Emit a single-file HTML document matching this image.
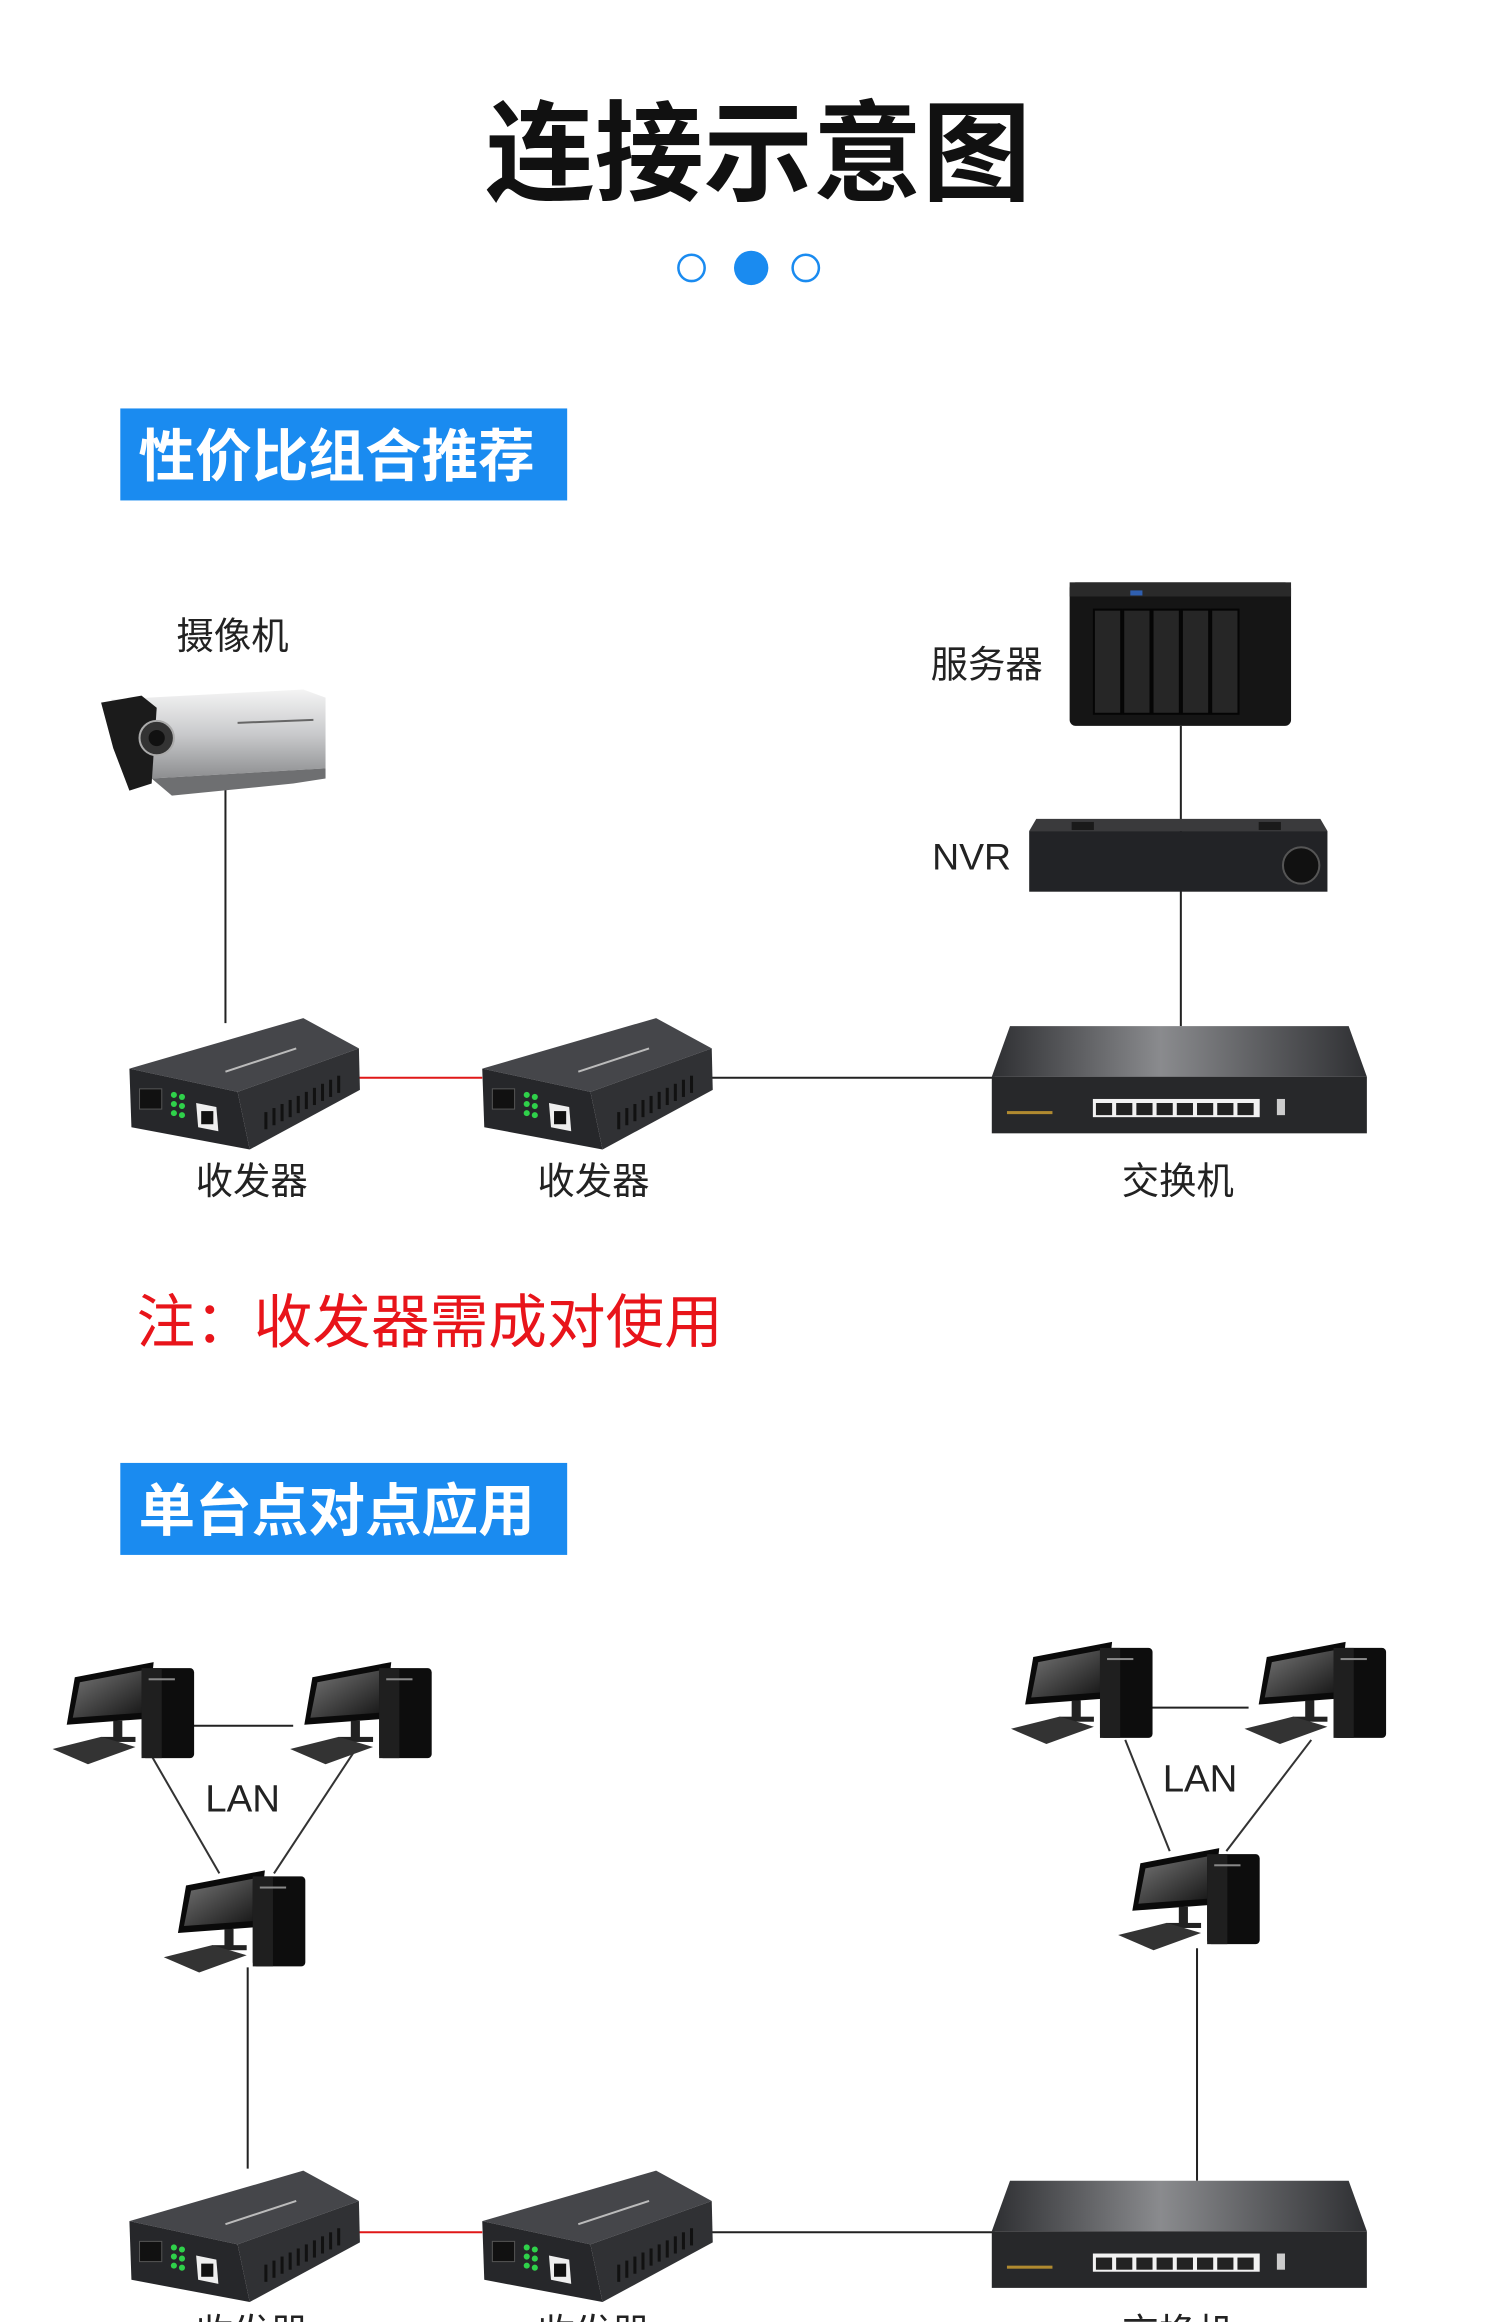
<!DOCTYPE html>
<html><head><meta charset="utf-8"><style>
html,body{margin:0;padding:0;background:#fff;}
svg{display:block;}
text{font-family:"Liberation Sans","Noto Sans CJK SC",sans-serif;}
</style></head><body>
<svg width="1500" height="2322" viewBox="0 0 1500 2322" xmlns="http://www.w3.org/2000/svg">
<defs>
<linearGradient id="swtop" x1="0" y1="0" x2="1" y2="0">
<stop offset="0" stop-color="#2e2f32"/><stop offset="0.45" stop-color="#8a8b8e"/><stop offset="1" stop-color="#2e2f32"/></linearGradient>
<linearGradient id="scr" x1="0" y1="0" x2="1" y2="1"><stop offset="0" stop-color="#777"/><stop offset="1" stop-color="#111"/></linearGradient>
<linearGradient id="cam" x1="0" y1="0" x2="0" y2="1"><stop offset="0" stop-color="#f4f4f4"/><stop offset="0.5" stop-color="#c9cacc"/><stop offset="1" stop-color="#8d8e90"/></linearGradient>
<g id="tr">
<polygon points="0,52 172,2 227,32 107,75" fill="#45464a"/>
<polygon points="0,52 107,75 119,132 2,110" fill="#26272a"/>
<polygon points="107,75 227,32 228,73 119,132" fill="#303134"/>
<rect x="10" y="72" width="22" height="20" fill="#111" stroke="#555"/>
<g fill="#2fd14a"><circle cx="44" cy="78" r="3"/><circle cx="52" cy="80" r="3"/><circle cx="44" cy="87" r="3"/><circle cx="52" cy="89" r="3"/><circle cx="44" cy="96" r="3"/><circle cx="52" cy="98" r="3"/></g>
<polygon points="66,86 86,90 88,114 68,110" fill="#eee"/><rect x="71" y="94" width="12" height="13" fill="#111"/>
<g stroke="#111" stroke-width="3"><line x1="135" y1="95" x2="135" y2="112"/><line x1="143" y1="91" x2="143" y2="108"/><line x1="151" y1="87" x2="151" y2="104"/><line x1="159" y1="83" x2="159" y2="100"/><line x1="167" y1="79" x2="167" y2="96"/><line x1="175" y1="75" x2="175" y2="92"/><line x1="183" y1="71" x2="183" y2="88"/><line x1="191" y1="67" x2="191" y2="84"/><line x1="199" y1="63" x2="199" y2="80"/><line x1="207" y1="59" x2="207" y2="76"/></g>
<line x1="95" y1="55" x2="165" y2="32" stroke="#bbb" stroke-width="2"/>
</g>
<g id="sw">
<polygon points="18,0 353,0 371,50 0,50" fill="url(#swtop)"/>
<rect x="0" y="50" width="371" height="56" fill="#27282a"/>
<rect x="100" y="72" width="165" height="18" fill="#f2f2f2"/>
<g fill="#222"><rect x="103" y="76" width="16" height="12"/><rect x="123" y="76" width="16" height="12"/><rect x="143" y="76" width="16" height="12"/><rect x="163" y="76" width="16" height="12"/><rect x="183" y="76" width="16" height="12"/><rect x="203" y="76" width="16" height="12"/><rect x="223" y="76" width="16" height="12"/><rect x="243" y="76" width="16" height="12"/></g>
<rect x="282" y="72" width="8" height="16" fill="#ccc"/>
<rect x="15" y="84" width="45" height="3" fill="#b08a30"/>
</g>
<g id="pc">
<polygon points="22,17 100,2 94,58 14,64" fill="#0a0a0a"/>
<polygon points="27,22 95,9 90,52 20,57" fill="url(#scr)"/>
<rect x="60" y="60" width="9" height="18" fill="#222"/><rect x="48" y="76" width="34" height="5" fill="#222"/>
<polygon points="0,88 48,76 82,86 35,103" fill="#333"/>
<rect x="88" y="8" width="52" height="89" rx="4" fill="#0d0d0d"/>
<rect x="88" y="8" width="20" height="89" fill="#1f1f1f"/>
<rect x="95" y="18" width="26" height="2" fill="#888"/>
</g>
</defs>
<g transform="scale(1.011)">
<text x="750" y="190" font-size="108" font-weight="bold" text-anchor="middle" fill="#111">连接示意图</text>
<circle cx="684" cy="265" r="13" fill="none" stroke="#1a8bf0" stroke-width="2.5"/>
<circle cx="743" cy="265" r="17" fill="#1a8bf0"/>
<circle cx="797" cy="265" r="13" fill="none" stroke="#1a8bf0" stroke-width="2.5"/>

<rect x="119" y="404" width="442" height="91" fill="#1a8bf0"/>
<text x="137" y="471" font-size="56" font-weight="bold" fill="#fff">性价比组合推荐</text>

<line x1="223" y1="780" x2="223" y2="1012" stroke="#222" stroke-width="2"/>
<line x1="355" y1="1066" x2="477" y2="1066" stroke="#e01818" stroke-width="2"/>
<line x1="700" y1="1066" x2="984" y2="1066" stroke="#222" stroke-width="2"/>
<line x1="1168" y1="718" x2="1168" y2="1015" stroke="#222" stroke-width="2"/>

<text x="230" y="642" font-size="37" text-anchor="middle" fill="#222">摄像机</text>
<g>
<polygon points="110,692 300,682 322,690 322,760 150,770" fill="url(#cam)"/>
<polygon points="100,695 140,688 155,700 150,775 128,782 112,740" fill="#1b1b1b"/>
<circle cx="155" cy="730" r="17" fill="#333" stroke="#aaa" stroke-width="2"/>
<circle cx="155" cy="730" r="8" fill="#111"/>
<polygon points="150,770 322,760 322,770 290,775 170,787" fill="#6e6f71"/>
<line x1="235" y1="715" x2="310" y2="712" stroke="#666" stroke-width="2"/>
</g>

<text x="976" y="670" font-size="37" text-anchor="middle" fill="#222">服务器</text>
<g>
<rect x="1058" y="576" width="219" height="142" rx="6" fill="#151515"/>
<rect x="1058" y="576" width="219" height="14" fill="#2a2a2a"/>
<g fill="#262626" stroke="#050505" stroke-width="2"><rect x="1082" y="603" width="27" height="103"/><rect x="1111" y="603" width="27" height="103"/><rect x="1140" y="603" width="27" height="103"/><rect x="1169" y="603" width="27" height="103"/><rect x="1198" y="603" width="27" height="103"/></g>
<rect x="1118" y="584" width="12" height="5" fill="#2f5fb0"/>
</g>
<text x="961" y="860" font-size="37" text-anchor="middle" fill="#222">NVR</text>
<g>
<polygon points="1025,810 1306,810 1313,822 1018,822" fill="#3a3a3c"/>
<rect x="1018" y="822" width="295" height="60" fill="#222326"/>
<rect x="1060" y="813" width="22" height="8" fill="#1a1a1a"/><rect x="1245" y="813" width="22" height="8" fill="#1a1a1a"/>
<circle cx="1287" cy="856" r="18" fill="#111" stroke="#555" stroke-width="2"/>
</g>

<use href="#tr" x="128" y="1005"/>
<use href="#tr" x="477" y="1005"/>
<use href="#sw" x="981" y="1015"/>
<text x="249" y="1181" font-size="37" text-anchor="middle" fill="#222">收发器</text>
<text x="587" y="1181" font-size="37" text-anchor="middle" fill="#222">收发器</text>
<text x="1165" y="1181" font-size="37" text-anchor="middle" fill="#222">交换机</text>

<text x="135" y="1328" font-size="58" fill="#e8141a">注：收发器需成对使用</text>

<rect x="119" y="1447" width="442" height="91" fill="#1a8bf0"/>
<text x="137" y="1514" font-size="56" font-weight="bold" fill="#fff">单台点对点应用</text>

<line x1="190" y1="1707" x2="290" y2="1707" stroke="#222" stroke-width="2"/>
<line x1="146" y1="1730" x2="217" y2="1853" stroke="#333" stroke-width="2"/>
<line x1="352" y1="1730" x2="271" y2="1853" stroke="#333" stroke-width="2"/>
<line x1="245" y1="1946" x2="245" y2="2145" stroke="#222" stroke-width="2"/>
<use href="#pc" x="52" y="1642"/>
<use href="#pc" x="287" y="1642"/>
<use href="#pc" x="162" y="1848"/>
<text x="240" y="1792" font-size="38" text-anchor="middle" fill="#222">LAN</text>

<line x1="1135" y1="1689" x2="1235" y2="1689" stroke="#222" stroke-width="2"/>
<line x1="1113" y1="1721" x2="1157" y2="1831" stroke="#333" stroke-width="2"/>
<line x1="1297" y1="1721" x2="1213" y2="1831" stroke="#333" stroke-width="2"/>
<line x1="1184" y1="1927" x2="1184" y2="2157" stroke="#222" stroke-width="2"/>
<use href="#pc" x="1000" y="1622"/>
<use href="#pc" x="1231" y="1622"/>
<use href="#pc" x="1106" y="1826"/>
<text x="1187" y="1772" font-size="38" text-anchor="middle" fill="#222">LAN</text>

<line x1="355" y1="2208" x2="477" y2="2208" stroke="#e01818" stroke-width="2"/>
<line x1="700" y1="2208" x2="984" y2="2208" stroke="#222" stroke-width="2"/>
<use href="#tr" x="128" y="2145"/>
<use href="#tr" x="477" y="2145"/>
<use href="#sw" x="981" y="2157"/>
<text x="249" y="2320" font-size="37" text-anchor="middle" fill="#222">收发器</text>
<text x="587" y="2320" font-size="37" text-anchor="middle" fill="#222">收发器</text>
<text x="1165" y="2320" font-size="37" text-anchor="middle" fill="#222">交换机</text>
</g>
</svg>
</body></html>
